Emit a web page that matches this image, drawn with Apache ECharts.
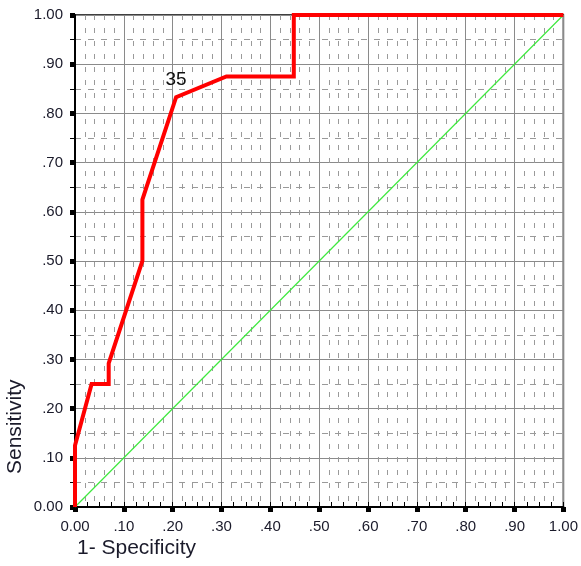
<!DOCTYPE html>
<html>
<head>
<meta charset="utf-8">
<script src="https://cdn.jsdelivr.net/npm/echarts@6/dist/echarts.min.js"></script>
<style>
html,body{margin:0;padding:0;background:#fff;}
#chart{width:581px;height:566px;}
</style>
</head>
<body>
<div id="chart"></div>
<script>
// ROC curve points (1 - specificity, sensitivity)
const fpr = [0, 0, 0.034, 0.069, 0.069, 0.138, 0.138, 0.207, 0.310, 0.448, 0.448, 1.0];
const tpr = [0, 0.125, 0.25, 0.25, 0.292, 0.5, 0.625, 0.833, 0.875, 0.875, 1.0, 1.0];
// reference diagonal
const diagX = [0, 1];
const diagY = [0, 1];
// cut-off label
const cutLabel = '35';
const cutIndex = 7;
// tick labels
const tickLabels = ['0.00', '.10', '.20', '.30', '.40', '.50', '.60', '.70', '.80', '.90', '1.00'];

const fmt = v => tickLabels[Math.round(v * 10)] || '';

const rocData = fpr.map((x, i) => {
  const p = { value: [x, tpr[i]] };
  if (i === cutIndex) {
    p.label = { show: true, formatter: cutLabel, position: 'top', distance: 8,
      fontFamily: 'Liberation Sans', fontSize: 19, color: '#111' };
  }
  return p;
});
const diagData = diagX.map((x, i) => [x, diagY[i]]);

const fontFam = 'Liberation Sans, Arial, sans-serif';
const chart = echarts.init(document.getElementById('chart'));
chart.setOption({
  animation: false,
  backgroundColor: '#fff',
  grid: { left: 75, right: 16, top: 15, bottom: 59, show: true, borderColor: '#000', borderWidth: 1.5, backgroundColor: 'transparent' },
  xAxis: [{
    type: 'value', min: 0, max: 1, interval: 0.1,
    axisLine: { show: true, onZero: false, lineStyle: { color: '#000', width: 2 } },
    axisTick: { show: true, length: 5, lineStyle: { color: '#000', width: 5 } },
    minorTick: { show: false },
    axisLabel: { formatter: fmt, color: '#1a1a2a', fontSize: 15, fontFamily: fontFam, margin: 12, showMinLabel: true, showMaxLabel: true },
    splitLine: { show: true, lineStyle: { color: '#8a8a8a', width: 1 } },
    minorSplitLine: { show: true, lineStyle: { color: '#9a9a9a', width: 1, type: [5, 8] } }
  }, {
    type: 'value', min: 0, max: 1, interval: 0.1, position: 'bottom',
    axisLine: { show: false },
    axisTick: { show: true, inside: true, length: 5, lineStyle: { color: '#000', width: 1 } },
    minorTick: { show: true, splitNumber: 4, length: 5, lineStyle: { color: '#000', width: 1 } },
    axisLabel: { show: false },
    splitLine: { show: false }
  }],
  yAxis: {
    type: 'value', min: 0, max: 1, interval: 0.1,
    axisLine: { show: true, onZero: false, lineStyle: { color: '#000', width: 2 } },
    axisTick: { show: true, length: 5, lineStyle: { color: '#000', width: 5 } },
    minorTick: { show: true, splitNumber: 2, length: 5, lineStyle: { color: '#000', width: 1 } },
    axisLabel: { formatter: fmt, color: '#1a1a2a', fontSize: 15, fontFamily: fontFam, margin: 12, showMinLabel: true, showMaxLabel: true },
    splitLine: { show: true, lineStyle: { color: '#8a8a8a', width: 1 } },
    minorSplitLine: { show: true, lineStyle: { color: '#9a9a9a', width: 1, type: [6, 7] } }
  },
  series: [{
    type: 'line', data: diagData, symbol: 'none', silent: true,
    lineStyle: { color: '#3ee83e', width: 1.2 }, z: 2
  }, {
    type: 'line', data: rocData, symbol: 'circle', symbolSize: 0, showSymbol: true,
    itemStyle: { color: '#ff0000' },
    lineStyle: { color: '#ff0000', width: 4, join: 'miter' }, z: 3
  }],
  graphic: [{
    type: 'text', left: 77, top: 538,
    style: { text: '1- Specificity', font: '21px Liberation Sans', fill: '#1a1a2a' }
  }, {
    type: 'text', x: 5, y: 474, rotation: Math.PI / 2,
    style: { text: 'Sensitivity', font: '21px Liberation Sans', fill: '#1a1a2a', textVerticalAlign: 'top' }
  }]
});
</script>
</body>
</html>
